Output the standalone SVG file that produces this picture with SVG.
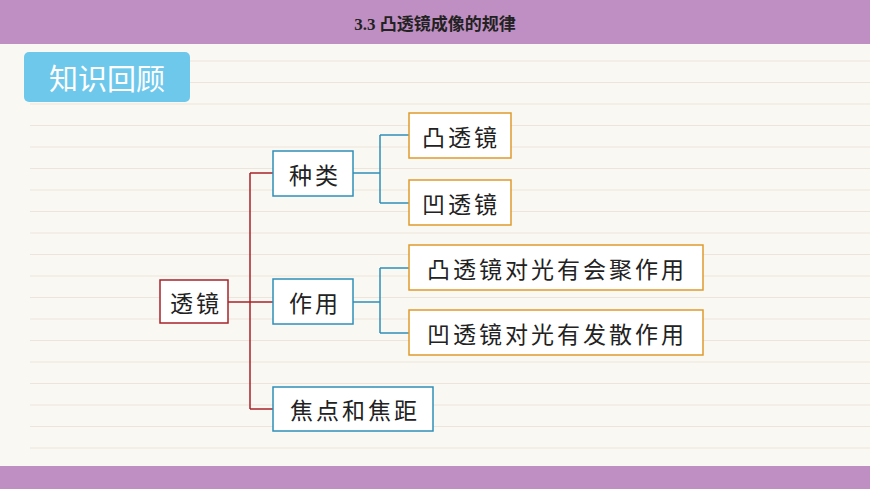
<svg xmlns="http://www.w3.org/2000/svg" width="870" height="489" viewBox="0 0 870 489">
<defs>
<pattern id="rule" x="0" y="39" width="870" height="21.5" patternUnits="userSpaceOnUse">
<line x1="0" y1="0.5" x2="870" y2="0.5" stroke="#ebe5da" stroke-width="1"/>
</pattern>
</defs>
<style>
.t{font-family:"Noto Sans CJK SC",sans-serif;font-size:23px;fill:#222;dominant-baseline:central;text-anchor:middle;letter-spacing:3px}
.red{fill:#fff;stroke:#a8232a;stroke-width:1.5}
.blue{fill:#fff;stroke:#2f8fb8;stroke-width:1.5}
.org{fill:#fff;stroke:#e09a2c;stroke-width:1.5}
</style>
<rect width="870" height="489" fill="#faf8f3"/>
<rect x="30" y="45" width="840" height="420" fill="url(#rule)"/>
<rect width="870" height="44" fill="#bf8fc3"/>
<rect y="466" width="870" height="23" fill="#bf8fc3"/>
<text x="435" y="24" font-family="'Liberation Serif','Noto Sans CJK SC',serif" font-size="17" font-weight="bold" text-anchor="middle" dominant-baseline="central" fill="#222">3.3 凸透镜成像的规律</text>
<g id="title"><rect x="24" y="52" width="166" height="50" rx="5" fill="#6ec8ec"/>
<text x="107" y="77" font-family="'Noto Sans CJK SC',sans-serif" font-size="29" fill="#fff" text-anchor="middle" dominant-baseline="central">知识回顾</text></g>
<g id="connectors" fill="none" stroke-width="1.5">
<path d="M228 302H273M250 173V409M250 173H273M250 409H273" stroke="#a8232a"/>
<path d="M353 173H380M380 135V203M380 135H409M380 203H409M353 302H380M380 268V333M380 268H409M380 333H409" stroke="#2f8fb8"/>
</g>
<g id="n1"><rect class="red" x="160" y="280" width="68" height="43"/><text class="t" x="196" y="302">透镜</text></g>
<g id="n2"><rect class="blue" x="273" y="151" width="80" height="45"/><text class="t" x="315" y="174">种类</text></g>
<g id="n3"><rect class="blue" x="273" y="279" width="80" height="45"/><text class="t" x="315" y="302">作用</text></g>
<g id="n4"><rect class="blue" x="273" y="387" width="160" height="44"/><text class="t" x="355" y="409">焦点和焦距</text></g>
<g id="n5"><rect class="org" x="409" y="113" width="102" height="45"/><text class="t" x="461" y="136">凸透镜</text></g>
<g id="n6"><rect class="org" x="409" y="180" width="102" height="45"/><text class="t" x="461" y="203">凹透镜</text></g>
<g id="n7"><rect class="org" x="409" y="245" width="294" height="45"/><text class="t" x="557" y="268">凸透镜对光有会聚作用</text></g>
<g id="n8"><rect class="org" x="409" y="310" width="294" height="45"/><text class="t" x="557" y="333">凹透镜对光有发散作用</text></g>
</svg>
